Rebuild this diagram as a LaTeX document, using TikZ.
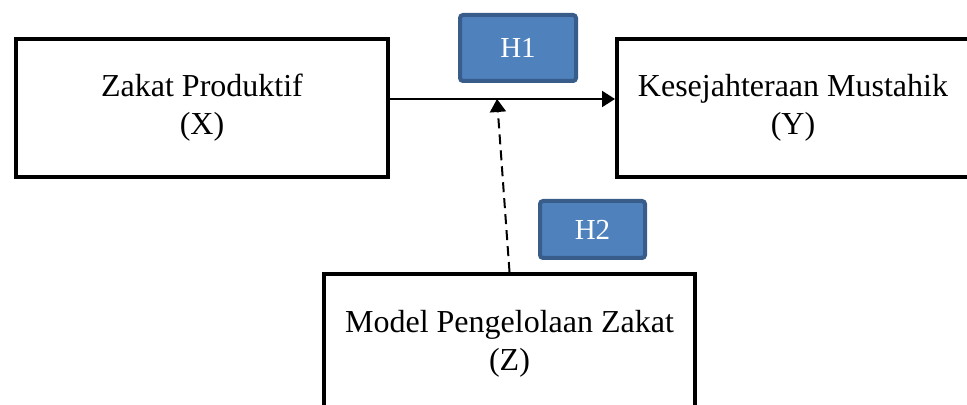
\documentclass[tikz,border=0pt]{standalone}
\usepackage{fontspec}
\setmainfont{Liberation Serif}
\usepackage{xcolor}
\usetikzlibrary{arrows.meta}
\definecolor{hfill}{HTML}{4F81BD}
\definecolor{hline}{HTML}{385D8A}
\begin{document}
\begin{tikzpicture}[x=0.5pt,y=-0.5pt,
    var/.style={draw,line width=2pt,inner sep=0pt,align=center,
      font=\fontsize{16}{19}\selectfont},
    hyp/.style={draw=hline,fill=hfill,line width=2pt,rounded corners=1.5pt,
      inner sep=0pt,text=white,font=\fontsize{14.5}{16}\selectfont},
    tip/.style={-{Triangle[length=6.5pt,width=8pt]}}]
            \useasboundingbox (0,0) rectangle (967,405);
            \node (x) at (202,108) [var,minimum width=186pt,minimum height=69pt] {Zakat Produktif\\(X)};
            \node (y) at (805,108) [var,minimum width=188pt,minimum height=69pt] {Kesejahteraan Mustahik\hspace*{12pt}\\(Y)\hspace*{12pt}};
            \node (z) at (509.5,344) [var,minimum width=185.5pt,minimum height=70pt] {Model Pengelolaan Zakat\\(Z)};
            \node (h1) at (518,48) [hyp,minimum width=58pt,minimum height=33pt] {H1};
            \node (h2) at (592.5,229.5) [hyp,minimum width=52.5pt,minimum height=28.5pt] {H2};
            \coordinate (m) at (497,99);


            \draw[tip,line width=1pt] ([yshift=4.5pt]x.east) -- ([yshift=4.5pt]y.west);
            \draw[tip,line width=1pt,dash pattern=on 5pt off 3pt] (z.north) -- (m);

        \end{tikzpicture}
\end{document}
